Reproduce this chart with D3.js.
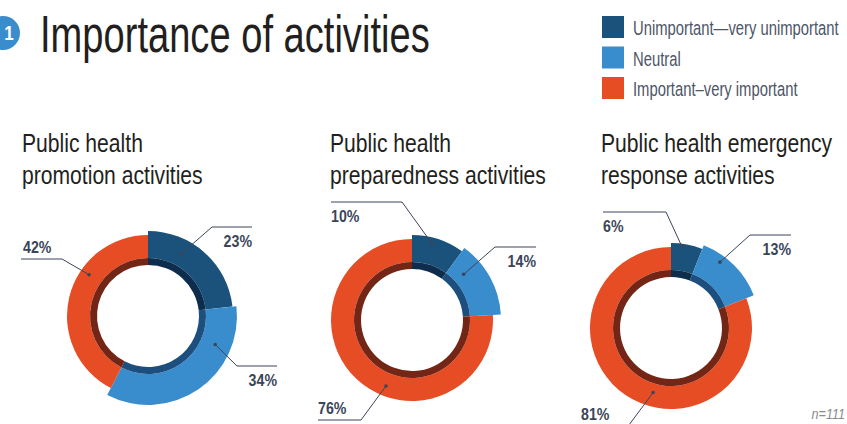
<!DOCTYPE html>
<html>
<head>
<meta charset="utf-8">
<script src="https://cdn.jsdelivr.net/npm/d3@7"></script>
<style>
  html, body { margin: 0; padding: 0; background: #fff; }
  svg { display: block; }
  text { font-family: "Liberation Sans", Arial, sans-serif; }
</style>
</head>
<body>
<svg id="chart" width="847" height="424"></svg>
<script>
// Survey responses (%), one entry per activity group
const groups = ["promotion", "preparedness", "emergency"];
const groupTitles = [
  ["Public health", "promotion activities"],
  ["Public health", "preparedness activities"],
  ["Public health emergency", "response activities"]
];
const categories = ["Unimportant\u2014very unimportant", "Neutral", "Important\u2013very important"];
const unimportant = [23, 10, 6];
const neutral = [34, 14, 13];
const important = [42, 76, 81];
const sampleNote = "n=111";

// Styling
const fills = ["#1b527b", "#3a8dcc", "#e64d25"];
const innerFills = ["#0e2c4c", "#1c4e7e", "#732616"];
const outerRadius = [85, 89, 81];
const bandInner = 51, bandOuter = 58;
const labelColor = "#3b4558";

// Layout of each donut and its leader lines (relative to the donut centre)
const centers = [[148, 316], [412, 320], [671, 328]];
const titleX = [22, 330, 601];
const leaders = [
  [ { ang: 28,  r: 70, elbow: [64, -89],  endX: 104,  side: "below", anchor: "end" },
    { ang: 113, r: 73, elbow: [89, 50],   endX: 129,  side: "below", anchor: "end" },
    { ang: 305, r: 72, elbow: [-86, -57], endX: -127, side: "above", anchor: "start", pad: 2 } ],
  [ { ang: 14.6, r: 79, elbow: [-10, -118], endX: -81, side: "below", anchor: "start" },
    { ang: 48.5, r: 69, elbow: [83, -73],   endX: 124, side: "below", anchor: "end" },
    { ang: 201.5, r: 71, elbow: [-51, 100], endX: -94, side: "above", anchor: "start" } ],
  [ { ang: 7.7,  r: 82, elbow: [-5, -116], endX: -68, side: "below", anchor: "start" },
    { ang: 36.6, r: 82, elbow: [79, -93],  endX: 120, side: "below", anchor: "end" },
    { ang: 195.5, r: 67, elbow: [-45, 101], endX: -90, side: "above", anchor: "start", lift: 3 } ]
];

const svg = d3.select("#chart");

// Condensed text: regular glyphs squeezed horizontally
function ctext(parent, x, y, str, opts) {
  const g = parent.append("g")
    .attr("transform", `translate(${x},${y}) scale(${opts.k || 1},1)`);
  return g.append("text")
    .attr("x", 0).attr("y", 0)
    .attr("text-anchor", opts.anchor || "start")
    .attr("font-size", opts.size)
    .attr("font-weight", opts.weight || "normal")
    .attr("font-style", opts.style || "normal")
    .attr("fill", opts.fill || "#231f20")
    .text(str);
}

// Heading with numbered badge
svg.append("circle").attr("cx", 3).attr("cy", 33).attr("r", 17).attr("fill", "#3a8dcc");
ctext(svg, 9, 40, "1", { size: 20, weight: "bold", fill: "#fff", anchor: "middle", k: 0.85 });
ctext(svg, 40, 52, "Importance of activities", { size: 51.5, k: 0.74, fill: "#231f20" });

// Legend
const legend = svg.append("g").attr("transform", "translate(602,16)");
categories.forEach((c, i) => {
  const y = i * 30.5;
  legend.append("rect").attr("x", 0).attr("y", y).attr("width", 22).attr("height", 22).attr("fill", fills[i]);
  ctext(legend, 31, y + 19, c, { size: 19.5, k: 0.76, fill: "#4d5566" });
});

const pie = d3.pie().sort(null).value(d => d.v);
const toRad = a => a * Math.PI / 180;

groups.forEach((grp, gi) => {
  const [cx, cy] = centers[gi];
  const values = [unimportant[gi], neutral[gi], important[gi]].map((v, i) => ({ v, i }));
  const arcs = pie(values);

  // Two-line title
  groupTitles[gi].forEach((line, li) => {
    ctext(svg, titleX[gi], 152 + li * 32, line, { size: 25, k: 0.845, fill: "#231f20" });
  });

  const g = svg.append("g").attr("transform", `translate(${cx},${cy})`);

  // Outer slices, each category with its own thickness
  g.selectAll("path.slice").data(arcs).join("path")
    .attr("class", "slice")
    .attr("fill", d => fills[d.data.i])
    .attr("d", d => d3.arc().innerRadius(bandOuter).outerRadius(outerRadius[d.data.i])(d));

  // Inner darker band
  g.selectAll("path.band").data(arcs).join("path")
    .attr("class", "band")
    .attr("fill", d => innerFills[d.data.i])
    .attr("d", d3.arc().innerRadius(bandInner).outerRadius(bandOuter));

  // Leader lines and value labels
  arcs.forEach((d, i) => {
    const L = leaders[gi][i];
    const dx = L.r * Math.sin(toRad(L.ang));
    const dy = -L.r * Math.cos(toRad(L.ang));
    const [ex, ey] = L.elbow;
    g.append("polyline")
      .attr("points", `${dx},${dy} ${ex},${ey} ${L.endX},${ey}`)
      .attr("fill", "none").attr("stroke", labelColor).attr("stroke-width", 1);
    g.append("circle").attr("cx", dx).attr("cy", dy).attr("r", 1.8).attr("fill", labelColor);
    const ty = L.side === "below" ? ey + 20 : ey - 6 - (L.lift || 0);
    const tx = L.endX + (L.anchor === "end" ? 0 : (L.pad || 0));
    ctext(g, tx, ty, d.data.v + "%", { size: 16.5, weight: "bold", k: 0.86, fill: labelColor, anchor: L.anchor });
  });
});

ctext(svg, 845, 419, sampleNote, { size: 14, style: "italic", k: 0.9, fill: "#8a8a8a", anchor: "end" });
</script>
</body>
</html>
